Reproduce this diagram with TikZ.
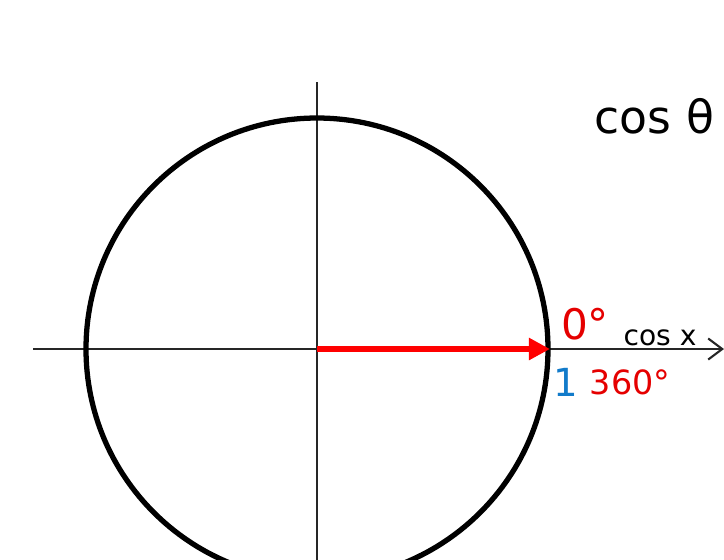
\documentclass[tikz,border=0pt]{standalone}
\usepackage{fontspec}
\setmainfont{DejaVu Sans}
\usetikzlibrary{arrows.meta, positioning}

\tikzset{
  axisline/.style={line width=0.6pt, black!85},
  redtext/.style={text=red!90!black, inner sep=0pt},
}

\begin{document}
\begin{tikzpicture}
    % Frame
    \useasboundingbox (0,0) rectangle (7.24,-5.59);
    \clip (0,0) rectangle (7.24,-5.59);

    % Centre and axis ends
    \coordinate (O) at (3.17,-3.49);
    \coordinate (xl) at (0.33,-3.49);
    \coordinate (xr) at (7.24,-3.49);
    \coordinate (yt) at (3.17,-0.82);
    \coordinate (yb) at (3.17,-5.70);
    \coordinate (P) at (5.50,-3.49);

    % Axes
    \draw[axisline, -{Straight Barb[length=4pt, width=6pt]}] (xl) -- (xr);
    \draw[axisline] (yt) -- (yb);

    % Unit circle
    \draw[line width=1.5pt] (O) circle (2.31);

    % Radius
    \draw[red, line width=1.6pt, -{Triangle[length=6pt, width=6pt]}] (O) -- (P);

    % Labels
    \node[redtext, font=\fontsize{12}{12}\selectfont] (zero) at (5.85,-3.24) {0°};
    \node[inner sep=0pt, font=\fontsize{8}{8}\selectfont] (cosx) at (6.60,-3.38) {cos x};
    \node[inner sep=0pt, text=cyan!60!blue, font=\fontsize{11}{11}\selectfont] (one) at (5.66,-3.82) {1};
    \node[redtext, font=\fontsize{9.5}{9.5}\selectfont] (full) at (6.30,-3.82) {360°};
    \node[anchor=west, inner sep=0pt, font=\fontsize{13}{13}\selectfont] (title) at (5.94,-1.16) {cos θ};
\end{tikzpicture}
\end{document}
